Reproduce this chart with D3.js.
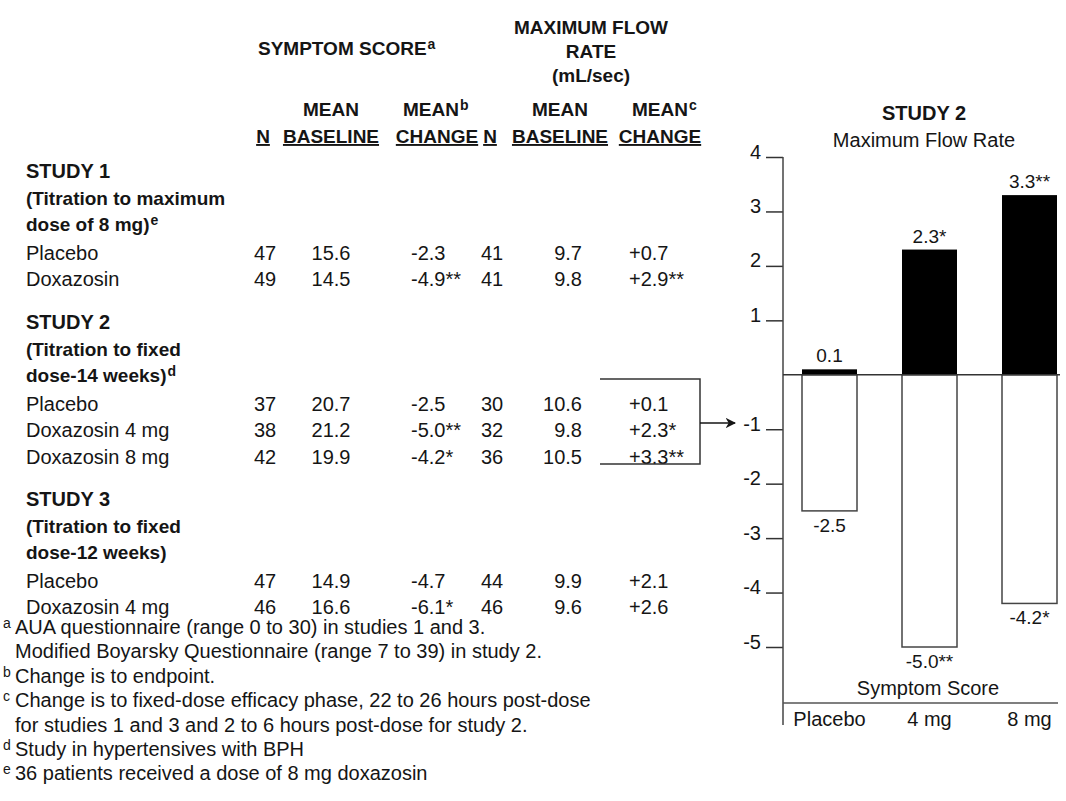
<!DOCTYPE html>
<html>
<head>
<meta charset="utf-8">
<script src="https://cdn.jsdelivr.net/npm/d3@7"></script>
<style>
  body { margin: 0; background: #fff; }
  text { font-family: "Liberation Sans", Arial, sans-serif; fill: #151515; }
</style>
</head>
<body>
<script>
// table data
const studyTitles = [
    ["STUDY 1", "(Titration to maximum", "dose of 8 mg)"],
    ["STUDY 2", "(Titration to fixed", "dose-14 weeks)"],
    ["STUDY 3", "(Titration to fixed", "dose-12 weeks)"]
];
const studyNotes = ["e", "d", ""];
const studyGroups = [
    ["Placebo", "Doxazosin"],
    ["Placebo", "Doxazosin 4 mg", "Doxazosin 8 mg"],
    ["Placebo", "Doxazosin 4 mg"]
];
const symptomN = [[47, 49], [37, 38, 42], [47, 46]];
const symptomBaseline = [["15.6", "14.5"], ["20.7", "21.2", "19.9"], ["14.9", "16.6"]];
const symptomChange = [["-2.3", "-4.9**"], ["-2.5", "-5.0**", "-4.2*"], ["-4.7", "-6.1*"]];
const flowN = [[41, 41], [30, 32, 36], [44, 46]];
const flowBaseline = [["9.7", "9.8"], ["10.6", "9.8", "10.5"], ["9.9", "9.6"]];
const flowChange = [["+0.7", "+2.9**"], ["+0.1", "+2.3*", "+3.3**"], ["+2.1", "+2.6"]];

const footnotes = [
    ["a", "AUA questionnaire (range 0 to 30) in studies 1 and 3."],
    ["", "Modified Boyarsky Questionnaire (range 7 to 39) in study 2."],
    ["b", "Change is to endpoint."],
    ["c", "Change is to fixed-dose efficacy phase, 22 to 26 hours post-dose"],
    ["", "for studies 1 and 3 and 2 to 6 hours post-dose for study 2."],
    ["d", "Study in hypertensives with BPH"],
    ["e", "36 patients received a dose of 8 mg doxazosin"]
];

// chart data (study 2)
const doses = ["Placebo", "4 mg", "8 mg"];
const flowRate = [0.1, 2.3, 3.3];
const flowSig = ["", "*", "**"];
const symptomScore = [-2.5, -5.0, -4.2];
const symptomSig = ["", "**", "*"];
const yTicks = [-5, -4, -3, -2, -1, 1, 2, 3, 4];

d3.select('body').append('svg')
    .attr('width', 1066)
    .attr('height', 801);

var svg = d3.select('svg');

// helper: text with optional superscript
function label(g, x, y, txt, sup, opts) {
    opts = opts || {};
    var t = g.append("text")
        .attr("x", x)
        .attr("y", y)
        .attr("font-size", opts.size || 20)
        .attr("font-weight", opts.bold ? "bold" : null)
        .attr("text-anchor", opts.anchor || "start")
        .attr("text-decoration", opts.underline ? "underline" : null);
    t.append("tspan").text(txt);
    if (sup) {
        t.append("tspan")
            .attr("font-size", opts.supSize || 14)
            .attr("dx", 1)
            .attr("dy", -6)
            .text(sup);
    }
    return t;
}

// ---- table header ----
var head = svg.append("g");
label(head, 258, 55, "SYMPTOM SCORE", "a", {bold: true, size: 19});
label(head, 591, 34, "MAXIMUM FLOW", "", {bold: true, size: 19, anchor: "middle"});
label(head, 591, 58, "RATE", "", {bold: true, size: 19, anchor: "middle"});
label(head, 591, 82, "(mL/sec)", "", {bold: true, size: 19, anchor: "middle"});

label(head, 331, 116, "MEAN", "", {bold: true, size: 19, anchor: "middle"});
label(head, 403, 116, "MEAN", "b", {bold: true, size: 19});
label(head, 560, 116, "MEAN", "", {bold: true, size: 19, anchor: "middle"});
label(head, 632, 116, "MEAN", "c", {bold: true, size: 19});

var colHeads = [["N", 263], ["BASELINE", 331], ["CHANGE", 437], ["N", 490], ["BASELINE", 560], ["CHANGE", 660]];
colHeads.forEach(function(c) {
    label(head, c[1], 143, c[0], "", {bold: true, size: 19, anchor: "middle", underline: true});
});

// ---- table body ----
var body = svg.append("g");
var lineH = 26.5;
var blockTop = [178, 329, 506];

studyTitles.forEach(function(lines, s) {
    var y0 = blockTop[s];
    lines.forEach(function(l, i) {
        label(body, 26, y0 + i * lineH, l, i == 2 ? studyNotes[s] : "",
              {bold: true, size: i == 0 ? 20 : 19});
    });
    studyGroups[s].forEach(function(grp, r) {
        var y = y0 + (3 + r) * lineH + 2;
        label(body, 26, y, grp);
        label(body, 265, y, symptomN[s][r], "", {anchor: "middle"});
        label(body, 331, y, symptomBaseline[s][r], "", {anchor: "middle"});
        label(body, 411, y, symptomChange[s][r]);
        label(body, 492, y, flowN[s][r], "", {anchor: "middle"});
        label(body, 582, y, flowBaseline[s][r], "", {anchor: "end"});
        label(body, 629, y, flowChange[s][r]);
    });
});

// footnotes
var notes = svg.append("g");
footnotes.forEach(function(f, i) {
    var y = 634 + i * 24.4;
    if (f[0]) notes.append("text").attr("x", 3).attr("y", y - 6).attr("font-size", 14).text(f[0]);
    notes.append("text").attr("x", 15).attr("y", y).attr("font-size", 20).text(f[1]);
});

// bracket + arrow from table to chart
svg.append("defs").append("marker")
    .attr("id", "arrow")
    .attr("viewBox", "0 0 10 10")
    .attr("refX", 9).attr("refY", 5)
    .attr("markerWidth", 7).attr("markerHeight", 7)
    .attr("orient", "auto")
    .append("path").attr("d", "M0,0 L10,5 L0,10 L3,5 Z").attr("fill", "#151515");

svg.append("path")
    .attr("d", "M600,379 H700 V464 H600")
    .attr("fill", "none").attr("stroke", "#333").attr("stroke-width", 1.5);
svg.append("line")
    .attr("x1", 700).attr("x2", 735).attr("y1", 423).attr("y2", 423)
    .attr("stroke", "#151515").attr("stroke-width", 1.5)
    .attr("marker-end", "url(#arrow)");

// ---- chart ----
var xScale = d3.scaleBand().domain(doses).range([783, 1076]).paddingInner(0.45).paddingOuter(0.19),
    yScale = d3.scaleLinear().domain([-5, 4]).range([647, 157]);

var chart = svg.append("g");

label(chart, 924, 120, "STUDY 2", "", {bold: true, size: 20, anchor: "middle"});
label(chart, 924, 147, "Maximum Flow Rate", "", {anchor: "middle"});

// y axis
var yAxis = chart.append("g")
    .attr("transform", "translate(783,0)")
    .call(d3.axisLeft(yScale).tickValues(yTicks).tickFormat(function(d) { return String(d); }).tickSize(17).tickPadding(5));
yAxis.select(".domain").remove();
yAxis.selectAll(".tick line").attr("stroke", "#333").attr("stroke-width", 1.5);
yAxis.selectAll(".tick text")
    .attr("font-size", 20)
    .attr("font-family", "Liberation Sans, Arial, sans-serif")
    .attr("fill", "#151515")
    .attr("dy", "0.05em");

chart.append("line")
    .attr("x1", 783).attr("x2", 783)
    .attr("y1", yScale(4)).attr("y2", 725)
    .attr("stroke", "#444").attr("stroke-width", 1.5);

// symptom score bars (white, below zero)
chart.selectAll("rect.sym")
    .data(symptomScore)
    .enter().append("rect")
    .attr("class", "sym")
    .attr("x", function(d, i) { return xScale(doses[i]); })
    .attr("y", yScale(0))
    .attr("width", xScale.bandwidth())
    .attr("height", function(d) { return yScale(d) - yScale(0); })
    .attr("fill", "#fff")
    .attr("stroke", "#444")
    .attr("stroke-width", 1.5);

// flow rate bars (black, above zero)
chart.selectAll("rect.flow")
    .data(flowRate)
    .enter().append("rect")
    .attr("class", "flow")
    .attr("x", function(d, i) { return xScale(doses[i]); })
    .attr("y", function(d) { return yScale(d); })
    .attr("width", xScale.bandwidth())
    .attr("height", function(d) { return yScale(0) - yScale(d); })
    .attr("fill", "#000");

// zero line
chart.append("line")
    .attr("x1", 783).attr("x2", 1060)
    .attr("y1", yScale(0)).attr("y2", yScale(0))
    .attr("stroke", "#333").attr("stroke-width", 1.5);

// value labels
chart.selectAll("text.flowlab")
    .data(flowRate)
    .enter().append("text")
    .attr("class", "flowlab")
    .attr("x", function(d, i) { return xScale(doses[i]) + xScale.bandwidth() / 2; })
    .attr("y", function(d) { return yScale(d) - 7; })
    .attr("text-anchor", "middle")
    .attr("font-size", 19)
    .text(function(d, i) { return d.toFixed(1) + flowSig[i]; });

chart.selectAll("text.symlab")
    .data(symptomScore)
    .enter().append("text")
    .attr("class", "symlab")
    .attr("x", function(d, i) { return xScale(doses[i]) + xScale.bandwidth() / 2; })
    .attr("y", function(d) { return yScale(d) + 21; })
    .attr("text-anchor", "middle")
    .attr("font-size", 19)
    .text(function(d, i) { return d.toFixed(1) + symptomSig[i]; });

label(chart, 928, 695, "Symptom Score", "", {anchor: "middle"});

// bottom baseline + category labels
chart.append("line")
    .attr("x1", 783).attr("x2", 1058)
    .attr("y1", 703).attr("y2", 703)
    .attr("stroke", "#555").attr("stroke-width", 1.5);

chart.selectAll("text.dose")
    .data(doses)
    .enter().append("text")
    .attr("class", "dose")
    .attr("x", function(d) { return xScale(d) + xScale.bandwidth() / 2; })
    .attr("y", 726)
    .attr("text-anchor", "middle")
    .attr("font-size", 20)
    .text(function(d) { return d; });
</script>
</body>
</html>
